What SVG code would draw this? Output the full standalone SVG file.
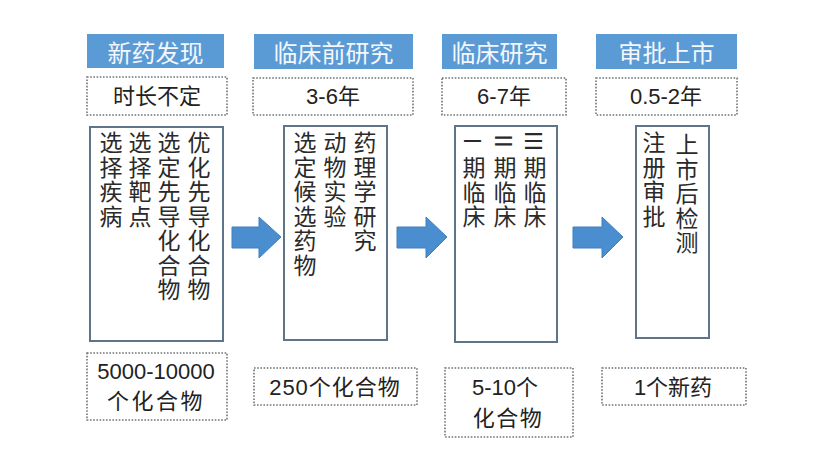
<svg xmlns="http://www.w3.org/2000/svg" width="832" height="474" viewBox="0 0 832 474">
<style>
.hdr{fill:#5b9bd5}
.hdrt{fill:#f4f7fb;font-family:"Noto Sans CJK SC","Noto Sans",sans-serif;font-size:24px;text-anchor:middle;dominant-baseline:central}
.dash{fill:#fff;stroke:#6f7478;stroke-width:1.6;stroke-dasharray:1.6 1.6}
.box{fill:#fff;stroke:#5e7488;stroke-width:2}
.t{fill:#222;font-family:"Liberation Sans","Noto Sans CJK SC",sans-serif;font-size:22px;text-anchor:middle;dominant-baseline:central}
.v{fill:#2a2a2a;font-family:"Noto Sans CJK SC",sans-serif;font-size:23px;writing-mode:vertical-rl;letter-spacing:1.5px}
.r{fill:#2a2a2a;font-family:"Noto Sans CJK SC",sans-serif;font-size:23px;text-anchor:middle;dominant-baseline:central}
.arr{fill:#4a8ed0;stroke:#3f7fbf;stroke-width:1}
</style>
<rect width="832" height="474" fill="#fff"/>
<g id="connectors">
<polygon class="arr" points="232,227 259,227 259,217 281,237 259,258 259,248 232,248"/>
<polygon class="arr" points="397,227 426,227 426,217 447,237 426,258 426,248 397,248"/>
<polygon class="arr" points="573,227 602,227 602,217 623,237 602,258 602,248 573,248"/>
</g>
<g id="stage1">
<rect class="hdr" x="87" y="34" width="137" height="34"/>
<text class="hdrt" x="155.5" y="51">新药发现</text>
<rect class="dash" x="87" y="77" width="140" height="38"/>
<text class="t" x="157" y="96">时长不定</text>
<rect class="box" x="90" y="127" width="133" height="214"/>
<text class="v" x="199" y="131">优化先导化合物</text>
<text class="v" x="169" y="131">选定先导化合物</text>
<text class="v" x="140" y="131">选择靶点</text>
<text class="v" x="111" y="131">选择疾病</text>
<rect class="dash" x="87" y="353" width="140" height="67"/>
<text class="t" x="156" y="371">5000-10000</text>
<text class="t" x="156" y="401" font-size="21" letter-spacing="2.5">个化合物</text>
</g>
<g id="stage2">
<rect class="hdr" x="254" y="34" width="159" height="35"/>
<text class="hdrt" x="333.5" y="51">临床前研究</text>
<rect class="dash" x="253" y="78" width="160" height="37"/>
<text class="t" x="333" y="96">3-6年</text>
<rect class="box" x="284" y="126" width="103" height="214"/>
<text class="v" x="365" y="131">药理学研究</text>
<text class="v" x="335" y="131">动物实验</text>
<text class="v" x="305" y="131">选定候选药物</text>
<rect class="dash" x="254" y="368" width="163" height="37"/>
<text class="t" x="335" y="387" letter-spacing="1">250个化合物</text>
</g>
<g id="stage3">
<rect class="hdr" x="442" y="34" width="115" height="35"/>
<text class="hdrt" x="499.5" y="51">临床研究</text>
<rect class="dash" x="442" y="78" width="124" height="37"/>
<text class="t" x="504" y="96">6-7年</text>
<rect class="box" x="455" y="126" width="102" height="216"/>
<text class="r" transform="translate(535,141) rotate(90)">Ⅲ</text>
<text class="r" transform="translate(505,141) rotate(90)">Ⅱ</text>
<text class="r" transform="translate(474,141) rotate(90)">Ⅰ</text>
<text class="v" x="535" y="156">期临床</text>
<text class="v" x="505" y="156">期临床</text>
<text class="v" x="474" y="156">期临床</text>
<rect class="dash" x="445" y="368" width="128" height="69"/>
<text class="t" x="505" y="387">5-10个</text>
<text class="t" x="508" y="418" font-size="21" letter-spacing="1.5">化合物</text>
</g>
<g id="stage4">
<rect class="hdr" x="596" y="34" width="141" height="35"/>
<text class="hdrt" x="666.5" y="51">审批上市</text>
<rect class="dash" x="596" y="78" width="141" height="37"/>
<text class="t" x="666" y="96">0.5-2年</text>
<rect class="box" x="636" y="126" width="73" height="212"/>
<text class="v" x="687" y="133">上市后检测</text>
<text class="v" x="654" y="131">注册审批</text>
<rect class="dash" x="602" y="368" width="144" height="37"/>
<text class="t" x="673" y="387">1个新药</text>
</g>
</svg>
